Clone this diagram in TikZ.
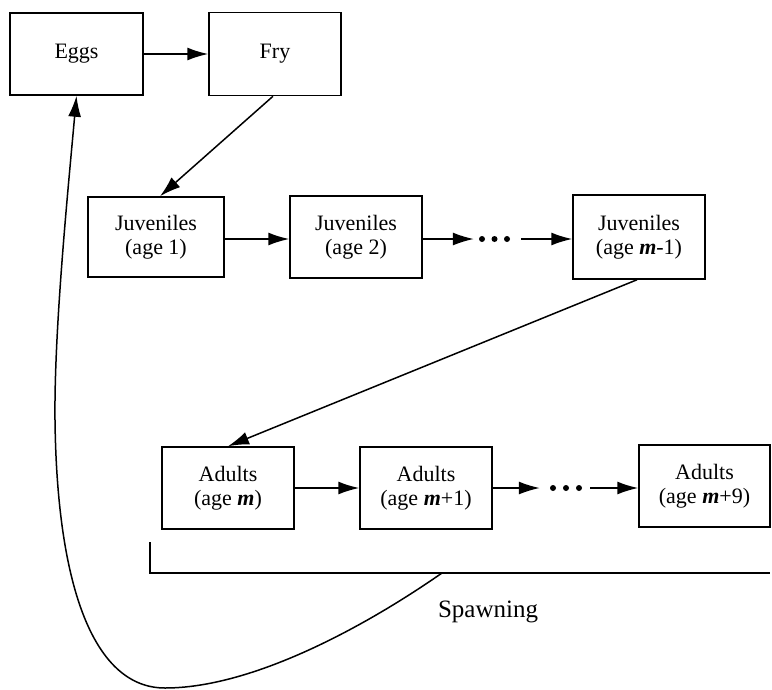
\documentclass[tikz,border=0pt]{standalone}
\usepackage{fontspec}
\setmainfont{Liberation Serif}
\usetikzlibrary{arrows.meta}
\begin{document}
\begin{tikzpicture}[x=1pt,y=-1pt,
  stage/.style={draw,line width=1.5pt,align=center,inner sep=0pt,
    font=\fontsize{22}{23.5}\selectfont},
  flow/.style={line width=1.5pt,-{Latex[length=21pt,width=13pt]}},
  plain/.style={line width=1.5pt},
  dot/.style={fill,circle,inner sep=0pt,minimum size=6pt}]
\useasboundingbox (0,0) rectangle (772,689);
\node[stage,minimum width=133pt,minimum height=82pt] (eggs) at (76.5,54) {Eggs};
\node[stage,minimum width=132pt,minimum height=83pt] (fry) at (275,54) {Fry};
\node[stage,minimum width=136pt,minimum height=80pt] (j1) at (156,237) {Juveniles\\(age 1)};
\node[stage,minimum width=132pt,minimum height=82pt] (j2) at (356,237) {Juveniles\\(age 2)};
\node[stage,minimum width=132pt,minimum height=84pt] (jm) at (639,237) {Juveniles\\(age \textbf{\textit{m}}-1)};
\node[stage,minimum width=132pt,minimum height=82pt] (a1) at (228,488) {Adults\\(age \textbf{\textit{m}})};
\node[stage,minimum width=132pt,minimum height=82pt] (a2) at (426,488) {Adults\\(age \textbf{\textit{m}}+1)};
\node[stage,minimum width=131pt,minimum height=82pt] (a9) at (704.5,486) {Adults\\(age \textbf{\textit{m}}+9)};
% dots groups
\node[inner sep=0pt,minimum width=47pt,minimum height=8pt] (dj) at (497.5,239) {};
\node[dot] at (482,239) {};
\node[dot] at (494.5,239) {};
\node[dot] at (507,239) {};
\node[inner sep=0pt,minimum width=50pt,minimum height=8pt] (da) at (565,488) {};
\node[dot] at (553,488) {};
\node[dot] at (566,488) {};
\node[dot] at (579,488) {};
% arrows
\draw[flow] (eggs) -- (fry);
\draw[flow] ([xshift=-2pt]fry.south) -- ([xshift=4pt]j1.north);
\draw[flow] (j1.east |- 0,239) -- (j2.west |- 0,239);
\draw[flow] (j2.east |- 0,239) -- (dj.west);
\draw[flow] (dj.east) -- (jm.west |- 0,239);
\draw[flow] ([xshift=-2pt]jm.south) -- (a1.north);
\draw[flow] (a1.east) -- (a2.east -| a2.west);
\draw[flow] (a2.east) -- (da.west);
\draw[flow] (da.east) -- (a9.west |- 0,488);
% spawning bracket
\coordinate (bl) at (150,542);
\coordinate (bc) at (150,573);
\coordinate (br) at (770,573);
\coordinate (sp) at (442,573);
\coordinate (low) at (165,688);
\coordinate (side) at (55,420);
\draw[plain] (bl) -- (bc) -- (br);
\node[font=\fontsize{25}{27}\selectfont] (spawn) at (488,612) {Spawning};
\draw[flow] (sp) .. controls (360,630) and (250,688) .. (low)
  .. controls (95,688) and (57,590) .. (side)
  .. controls (54,330) and (68,190) .. (eggs.south);
\end{tikzpicture}
\end{document}
